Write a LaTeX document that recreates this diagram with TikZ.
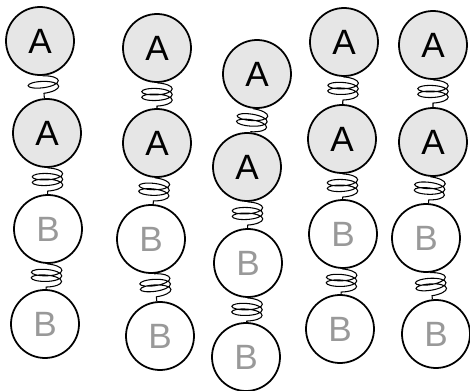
\documentclass[tikz,border=0pt]{standalone}
\usepackage{fontspec}
\setmainfont{Liberation Sans}
\usepackage{tikz}
\usetikzlibrary{decorations.pathmorphing}
\definecolor{beadfill}{RGB}{230,230,230}
\definecolor{beadtext}{RGB}{153,153,153}

\tikzset{
  bead/.style={circle, draw, line width=1.5pt, minimum size=2.04cm, inner sep=0pt,
    font=\fontsize{30}{30}\selectfont},
  beadA/.style={bead, fill=beadfill},
  beadB/.style={bead, fill=white, text=beadtext},
  springlink/.style={line width=0.9pt, decorate,
    decoration={coil, amplitude=13pt, segment length=4.8pt, aspect=0.3, pre length=0pt, post length=0pt}}
}

\begin{document}
\begin{tikzpicture}[x=0.03cm, y=-0.03cm]
  \useasboundingbox (0,0) rectangle (470,391);
  % one chain per column: A A B B, tied by springs
  \foreach \c/\xa/\ya/\xb/\yb/\xc/\yc/\xd/\yd in {
      1/40/41/47/133/48/229/45/324,
      2/157/48/157/143/151/239/160/336,
      3/257/74/247/167/248/263/246/357,
      4/344/42/342/139/343/234/340/329,
      5/433/45/433/142/426/238/436/334} {
    \node[beadA] (a\c) at (\xa,\ya) {A};
    \node[beadA] (aa\c) at (\xb,\yb) {A};
    \node[beadB] (b\c) at (\xc,\yc) {B};
    \node[beadB] (bb\c) at (\xd,\yd) {B};
    \draw[springlink] (a\c) -- (aa\c);
    \draw[springlink] (aa\c) -- (b\c);
    \draw[springlink] (b\c) -- (bb\c);
  }
\end{tikzpicture}
\end{document}
